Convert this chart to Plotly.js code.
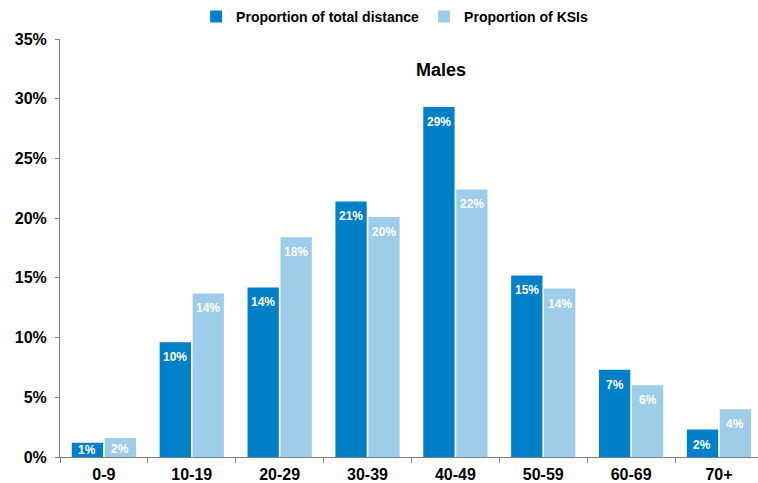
<!DOCTYPE html>
<html>
<head>
<meta charset="utf-8">
<script src="https://cdn.plot.ly/plotly-3.0.1.min.js"></script>
<style>html,body{margin:0;padding:0;background:#fff;}#chart{width:758px;height:483px;}</style>
</head>
<body>
<div id="chart"></div>
<script>
const categories = ['0-9','10-19','20-29','30-39','40-49','50-59','60-69','70+'];
const distanceShare = [1.2, 9.6, 14.2, 21.4, 29.3, 15.2, 7.3, 2.3];
const ksiShare = [1.6, 13.7, 18.4, 20.1, 22.4, 14.1, 6.0, 4.0];
const seriesNames = ['Proportion of total distance', 'Proportion of KSIs'];
const panelTitle = 'Males';

const FONT = 'Liberation Sans, Arial, sans-serif';
const Y_MAX = 35;
const PLOT_H = 483 - 39 - 26;

const traces = [
  {type:'bar', name: seriesNames[0], x: categories, y: distanceShare,
   marker:{color:'#0080C9'}, hoverinfo:'none'},
  {type:'bar', name: seriesNames[1], x: categories, y: ksiShare,
   marker:{color:'#9DCDE9'}, hoverinfo:'none'}
];

// data labels, white bold, placed inside the top of each bar
const annotations = [];
[distanceShare, ksiShare].forEach((vals, si) => {
  vals.forEach((v, i) => {
    const hpx = v / Y_MAX * PLOT_H;
    annotations.push({
      x: categories[i], y: v, xref:'x', yref:'y',
      text: '<b>' + Math.round(v) + '%</b>', showarrow:false,
      xanchor:'center', yanchor:'middle',
      xshift: si === 0 ? -16.5 : 16.5,
      yshift: -Math.min(15, hpx - 7.5),
      font:{family:FONT, size:12, color:'#ffffff'}
    });
  });
});
annotations.push({text:'<b>'+panelTitle+'</b>', xref:'paper', yref:'paper', x:0.546, y:0.926,
                xanchor:'center', yanchor:'middle', showarrow:false,
                font:{family:FONT, size:18, color:'#000'}});

const layout = {
  width: 758, height: 483,
  margin: {l:60, r:0, t:39, b:26, autoexpand:false},
  paper_bgcolor:'#ffffff', plot_bgcolor:'#ffffff',
  barmode:'group', bargap:0.25, bargroupgap:0.05,
  font:{family: FONT, color:'#000000'},
  showlegend:true,
  legend:{orientation:'h', x:0.195, xanchor:'left', yref:'container', y:0.965, yanchor:'middle',
          font:{family:FONT, size:14, color:'#000', weight:'bold'}, itemclick:false, traceorder:'normal'},
  xaxis:{type:'category', range:[-0.5, 7.444], showline:true, linecolor:'#808080', linewidth:1,
         ticks:'outside', tickson:'boundaries', ticklen:5, tickcolor:'#808080', ticklabelstandoff:3,
         tickfont:{family:FONT, size:16, color:'#000', weight:'bold'}, showgrid:false, fixedrange:true},
  yaxis:{range:[0,Y_MAX], dtick:5, ticksuffix:'%', showline:true, linecolor:'#808080', linewidth:1,
         ticks:'outside', ticklen:4, tickcolor:'#808080', showgrid:false, zeroline:false, ticklabelstandoff:5,
         tickfont:{family:FONT, size:16, color:'#000', weight:'bold'}, fixedrange:true},
  annotations: annotations
};

Plotly.newPlot('chart', traces, layout, {displayModeBar:false, staticPlot:true});
</script>
</body>
</html>
